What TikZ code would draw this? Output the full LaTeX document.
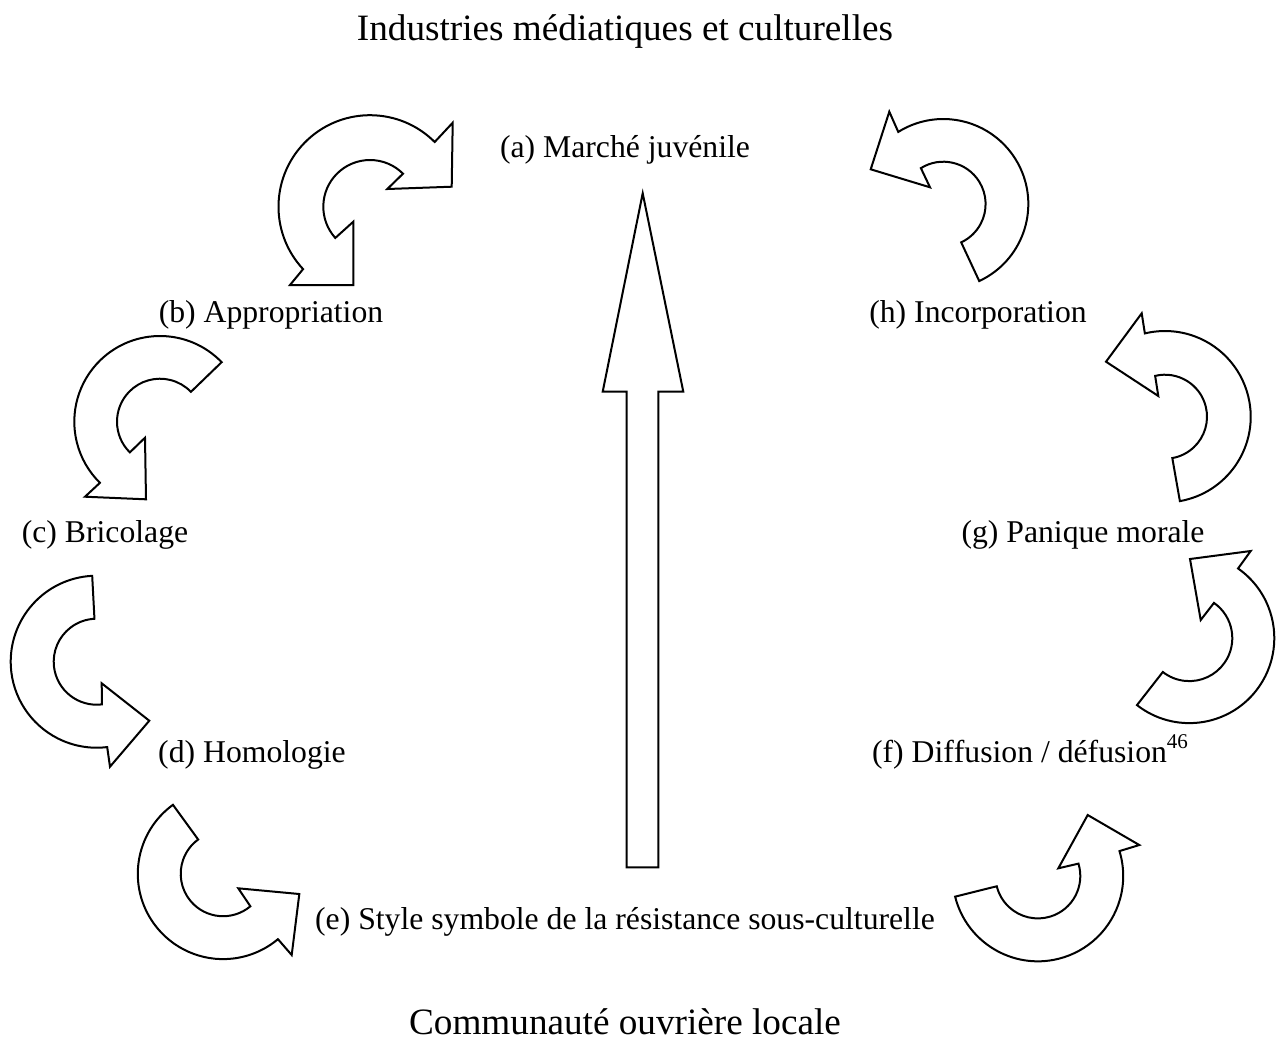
\documentclass[tikz,border=0pt]{standalone}
\usepackage{fontspec}
\setmainfont{Liberation Serif}
\usetikzlibrary{calc}
\begin{document}
\begin{tikzpicture}[x=0.5pt,y=0.5pt,
  cshape/.style={draw=black, line width=1pt, fill=white, line join=miter},
  lab/.style={inner sep=0pt, anchor=base, font=\fontsize{15.85}{19}\selectfont},
  head/.style={inner sep=0pt, anchor=base, font=\fontsize{18.6}{22}\selectfont}]
\useasboundingbox (0,0) rectangle (1279,-1046);

% titles and labels
\node[head] (top) at (625,-40) {Industries médiatiques et culturelles};
\node[head] (bot) at (625,-1034) {Communauté ouvrière locale};
\node[lab] (a) at (625,-157) {(a) Marché juvénile};
\node[lab] (b) at (271,-322) {(b) Appropriation};
\node[lab] (h) at (978,-322) {(h) Incorporation};
\node[lab] (c) at (105,-542) {(c) Bricolage};
\node[lab] (g) at (1083,-542) {(g) Panique morale};
\node[lab] (d) at (252,-762) {(d) Homologie};
\node[lab] (f) at (1030,-762) {(f) Dif\kern0pt{}fusion / défusion\raisebox{0.42em}{\fontsize{10.5}{12}\selectfont 46}};
\node[lab] (e) at (625,-929) {(e) Style symbole de la résistance sous-culturelle};

% centres of the circular arrows
\coordinate (c1) at (370,-206.7);
\coordinate (c2) at (943.3,-204);
\coordinate (c3) at (160,-421.7);
\coordinate (c4) at (1165,-416.7);
\coordinate (c5) at (96.7,-661.7);
\coordinate (c6) at (1189.3,-638.1);
\coordinate (c7) at (223.1,-873.8);
\coordinate (c8) at (1037.9,-876);

% big vertical arrow
\draw[cshape] (626.7,-867.3) -- (626.7,-391.7) -- (602.7,-391.7) -- (642.7,-193.3)
  -- (683.3,-391.7) -- (658.3,-391.7) -- (658.3,-867.3) -- cycle;

% arrow 1 (b -> a)
\draw[cshape] ($(c1)+(223:91.5)$) arc[start angle=223, end angle=45, radius=91.5]
  -- (452.7,-122.7) -- (451.7,-186.7) -- (387.3,-189)
  -- ($(c1)+(45:46.7)$) arc[start angle=45, end angle=222, radius=46.7]
  -- (353.3,-221.7) -- (353.3,-285) -- (290,-285) -- cycle;

% arrow 2 (h -> a)
\draw[cshape] ($(c2)+(-65:85)$) arc[start angle=-65, end angle=122, radius=85]
  -- (889.3,-111.7) -- (870.7,-169.3) -- (930,-187.3)
  -- ($(c2)+(122:42.3)$) arc[start angle=122, end angle=-65, radius=42.3] -- cycle;

% arrow 3 (b -> c)
\draw[cshape] ($(c3)+(44:85.7)$) arc[start angle=44, end angle=225.5, radius=85.7]
  -- (85,-496.7) -- (146,-499.3) -- (145,-437.7)
  -- ($(c3)+(225.5:43)$) arc[start angle=225.5, end angle=44, radius=43] -- cycle;

% arrow 4 (g -> h)
\draw[cshape] ($(c4)+(-80:85.7)$) arc[start angle=-80, end angle=103.6, radius=85.7]
  -- (1141.7,-313.3) -- (1106,-361.7) -- (1158.3,-396)
  -- ($(c4)+(103.6:42)$) arc[start angle=103.6, end angle=-80, radius=42] -- cycle;

% arrow 5 (c -> d)
\draw[cshape] ($(c5)+(93:86)$) arc[start angle=93, end angle=277, radius=86]
  -- (110,-766.7) -- (149.3,-720.7) -- (101.7,-683.3)
  -- ($(c5)+(277:43)$) arc[start angle=277, end angle=93, radius=43] -- cycle;

% arrow 6 (f -> g)
\draw[cshape] ($(c6)+(232:85)$) arc[start angle=232, end angle=415, radius=85]
  -- (1250.7,-551) -- (1190,-559) -- (1200.7,-620)
  -- ($(c6)+(415:43)$) arc[start angle=415, end angle=232, radius=43] -- cycle;

% arrow 7 (d -> e)
\draw[cshape] ($(c7)+(126:85.3)$) arc[start angle=126, end angle=310, radius=85.3]
  -- (291.7,-955) -- (299.3,-894) -- (238.3,-888.3)
  -- ($(c7)+(310:42.4)$) arc[start angle=310, end angle=126, radius=42.4] -- cycle;

% arrow 8 (e -> f)
\draw[cshape] ($(c8)+(194:85.3)$) arc[start angle=194, end angle=377, radius=85.3]
  -- (1139.3,-845) -- (1087.7,-815) -- (1058.3,-868.3)
  -- ($(c8)+(377:42.4)$) arc[start angle=377, end angle=194, radius=42.4] -- cycle;
\end{tikzpicture}
\end{document}
